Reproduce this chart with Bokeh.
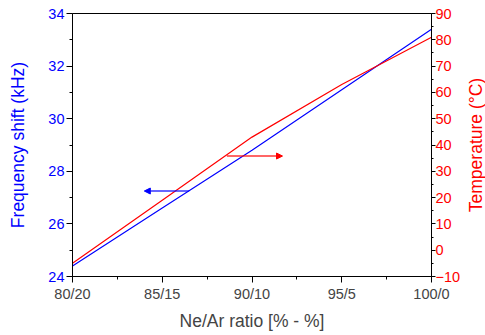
import math
from bokeh.plotting import figure
from bokeh.layouts import row
from bokeh.models import Range1d, LinearAxis, FixedTicker, Arrow, NormalHead, Title
from bokeh.embed import file_html
from bokeh.resources import INLINE

# Data
ratio_x = [80, 85, 90, 95, 100]
tick_labels = ["80/20", "85/15", "90/10", "95/5", "100/0"]
freq_shift = [24.4, 26.6, 28.8, 31.1, 33.4]
temperature = [-5, 19, 43, 63, 81]

# arrow annotations (data coordinates)
blue_arrow_x = [86.5, 84.0]
blue_arrow_y = 27.25
red_arrow_x = [88.6, 91.7]
red_arrow_y = 35.8

FONT = "Liberation Sans"
BLUE = "#0000FF"
RED = "#FF0000"

p = figure(width=463, height=335, output_backend="svg", toolbar_location=None,
           x_range=Range1d(80, 100), y_range=Range1d(24, 34),
           min_border_left=72, min_border_right=31, min_border_top=13, min_border_bottom=59)
p.extra_y_ranges = {"temp": Range1d(-10, 90)}
p.xgrid.visible = False
p.ygrid.visible = False
p.outline_line_color = "black"
p.outline_line_width = 1
p.background_fill_color = "white"
p.border_fill_color = "white"

p.line(ratio_x, freq_shift, line_color=BLUE, line_width=1.2)
p.line(ratio_x, temperature, line_color=RED, line_width=1.2, y_range_name="temp")

p.add_layout(Arrow(end=NormalHead(size=6, fill_color=BLUE, line_color=BLUE),
                   x_start=blue_arrow_x[0], y_start=blue_arrow_y,
                   x_end=blue_arrow_x[1], y_end=blue_arrow_y,
                   line_color=BLUE, line_width=1.5, line_alpha=0.8))
p.add_layout(Arrow(end=NormalHead(size=6, fill_color=RED, line_color=RED),
                   x_start=red_arrow_x[0], y_start=red_arrow_y,
                   x_end=red_arrow_x[1], y_end=red_arrow_y,
                   line_color=RED, line_width=1.5, line_alpha=0.8,
                   y_range_name="temp"))

# bottom axis
xa = p.xaxis[0]
xa.ticker = FixedTicker(ticks=ratio_x, minor_ticks=[82.5, 87.5, 92.5, 97.5])
xa.major_label_overrides = {v: l for v, l in zip(ratio_x, tick_labels)}
xa.axis_label = "Ne/Ar ratio [% - %]"
xa.axis_label_text_font = FONT
xa.axis_label_text_font_style = "normal"
xa.axis_label_text_font_size = "17.5px"
xa.axis_label_standoff = 6
xa.major_label_text_font = FONT
xa.major_label_text_font_size = "14.5px"
xa.major_label_standoff = 3
xa.major_tick_out = 6
xa.major_tick_in = 0
xa.minor_tick_out = 3
xa.minor_tick_in = 0
xa.axis_line_color = "black"

# left axis
ya = p.yaxis[0]
ya.ticker = FixedTicker(ticks=[24, 26, 28, 30, 32, 34], minor_ticks=[25, 27, 29, 31, 33])
ya.axis_label = "Frequency shift (kHz)"
ya.axis_label_text_color = BLUE
ya.axis_label_text_font = FONT
ya.axis_label_text_font_style = "normal"
ya.axis_label_text_font_size = "17.5px"
ya.axis_label_standoff = 17
ya.major_label_text_color = BLUE
ya.major_label_text_font = FONT
ya.major_label_text_font_size = "14.5px"
ya.major_label_standoff = 2
ya.major_tick_out = 6
ya.major_tick_in = 0
ya.minor_tick_out = 3
ya.minor_tick_in = 0

# right axis
ra = LinearAxis(y_range_name="temp",
                ticker=FixedTicker(ticks=list(range(-10, 91, 10)),
                                   minor_ticks=list(range(-5, 90, 10))))
ra.major_label_text_color = RED
ra.major_label_text_font = FONT
ra.major_label_text_font_size = "14.5px"
ra.major_label_standoff = 0
ra.major_tick_out = 4
ra.major_tick_in = 0
ra.minor_tick_out = 2
ra.minor_tick_in = 0
p.add_layout(ra, "right")

# narrow companion figure carrying the right-hand title (reads bottom-to-top)
p2 = figure(width=22, height=335, output_backend="svg", toolbar_location=None, title=None,
            x_range=Range1d(0, 1), y_range=Range1d(0, 1),
            min_border_left=0, min_border_right=0, min_border_top=13, min_border_bottom=59)
p2.axis.visible = False
p2.xgrid.visible = False
p2.ygrid.visible = False
p2.outline_line_color = None
p2.border_fill_color = "white"
p2.background_fill_color = "white"
p2.add_layout(Title(text="Temperature (°C)", align="center", text_color=RED,
                    text_font=FONT, text_font_size="17.5px", text_font_style="normal",
                    standoff=0), "left")

layout = row(p, p2, spacing=0)
open("out.html", "w").write(file_html(layout, INLINE))
